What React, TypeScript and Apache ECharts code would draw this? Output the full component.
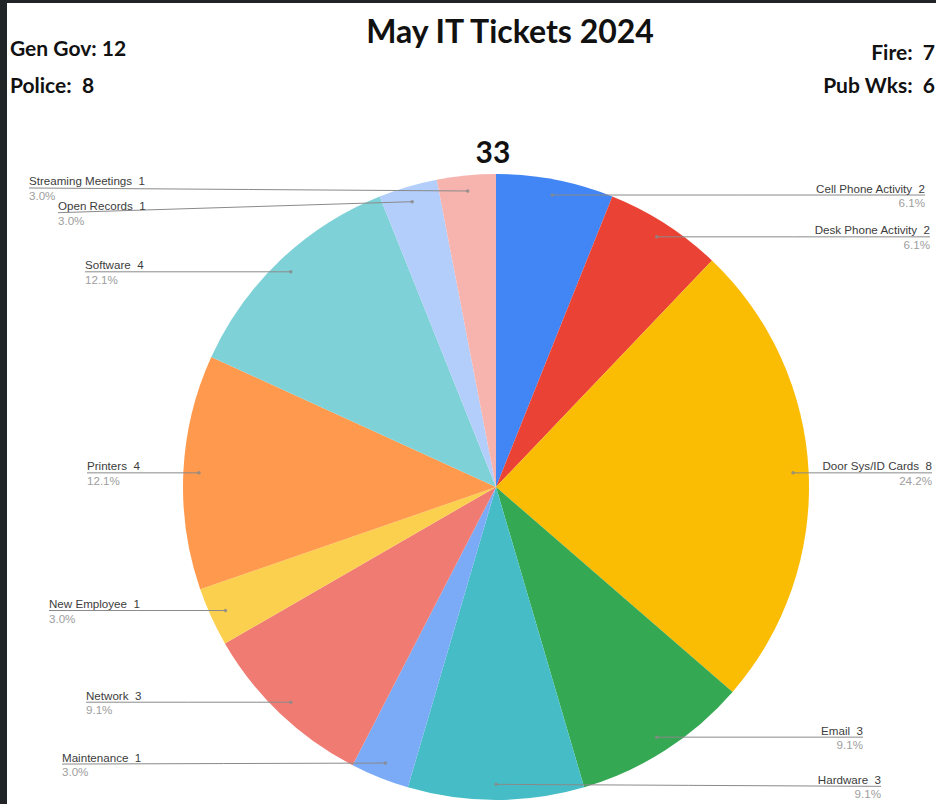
import React, { useEffect, useRef } from "react";
import * as echarts from "echarts";

const chartTitle = "May IT Tickets 2024";
const categories = [
  "Cell Phone Activity",
  "Desk Phone Activity",
  "Door Sys/ID Cards",
  "Email",
  "Hardware",
  "Maintenance",
  "Network",
  "New Employee",
  "Printers",
  "Software",
  "Open Records",
  "Streaming Meetings",
];
const ticketCounts = [2, 2, 8, 3, 3, 1, 3, 1, 4, 4, 1, 1];
const departmentNames = ["Gen Gov", "Police", "Fire", "Pub Wks"];
const departmentCounts = [12, 8, 7, 6];

const sliceColors = [
  "#4285F4",
  "#EA4335",
  "#FBBC04",
  "#34A853",
  "#46BDC6",
  "#7BAAF7",
  "#F07B72",
  "#FCD04F",
  "#FF994D",
  "#7ED1D7",
  "#B3CEFB",
  "#F7B4AE",
];

// layout constants (pixels)
const CX = 496;
const CY = 487;
const R = 313;
const DOT = 0.95;
const labelEndX = [925, 930, 932, 863, 881, 62, 86, 49, 87, 85, 58, 29];
const labelShiftY = [0, 0, 0, 0, 2, 1, 0, 0, 0, 0, 11, -3];

export default function App() {
  const ref = useRef<HTMLDivElement>(null);

  useEffect(() => {
    if (!ref.current) return;
    const chart = echarts.init(ref.current, undefined, { renderer: "svg" });
    const total = ticketCounts.reduce((a, b) => a + b, 0);
    const midAngles: number[] = [];
    const midValues: number[] = [];
    let cum = 0;
    ticketCounts.forEach((v) => {
      midValues.push(cum + v / 2);
      midAngles.push(((cum + v / 2) / total) * Math.PI * 2);
      cum += v;
    });

    const headFont = (size: number) => `bold ${size}px Lato, "Open Sans", sans-serif`;
    const deptText = (i: number) =>
      `${departmentNames[i]}:${departmentCounts[i] < 10 ? "  " : " "}${departmentCounts[i]}`;

    const common = {
      type: "pie",
      center: [CX, CY],
      radius: [0, R],
      startAngle: 90,
      clockwise: true,
      avoidLabelOverlap: false,
      silent: true,
      emphasis: { disabled: true },
    };
    const hiddenAxis = {
      axisLine: { show: false },
      axisTick: { show: false },
      axisLabel: { show: false },
      splitLine: { show: false },
    };

    chart.setOption({
      animation: false,
      backgroundColor: "#ffffff",
      polar: { center: [CX, CY], radius: R },
      angleAxis: { type: "value", min: 0, max: total, startAngle: 90, clockwise: true, ...hiddenAxis },
      radiusAxis: { type: "value", min: 0, max: 1, ...hiddenAxis },
      series: [
        {
          ...common,
          z: 2,
          itemStyle: { borderWidth: 0 },
          data: categories.map((name, i) => ({
            name,
            value: ticketCounts[i],
            itemStyle: { color: sliceColors[i] },
          })),
          label: { show: false },
          labelLine: { show: false },
        },
        {
          ...common,
          z: 5,
          itemStyle: { borderWidth: 0, color: "rgba(0,0,0,0)" },
          data: categories.map((name, i) => ({ name, value: ticketCounts[i] })),
          label: {
            show: true,
            position: "outside",
            formatter: (p: any) =>
              `{n|${p.name}  ${p.value}}\n{p|${((p.value / total) * 100).toFixed(1)}%}`,
            rich: {
              n: {
                fontSize: 11.6,
                fontFamily: "Liberation Sans, Arial, sans-serif",
                color: "#3c3c3c",
                lineHeight: 15,
              },
              p: {
                fontSize: 11.6,
                fontFamily: "Liberation Sans, Arial, sans-serif",
                color: "#9e9e9e",
                lineHeight: 14,
              },
            },
          },
          labelLine: {
            show: true,
            showAbove: true,
            length: 5,
            length2: 5,
            lineStyle: { color: "#8a8a8a", width: 1, opacity: 1 },
          },
          labelLayout: (p: any) => {
            const i = p.dataIndex;
            const a = midAngles[i];
            const dx = CX + Math.sin(a) * R * DOT;
            const dy = CY - Math.cos(a) * R * DOT;
            const ex = labelEndX[i];
            const ly = dy + labelShiftY[i];
            const right = ex > dx;
            return {
              x: ex,
              y: ly,
              align: right ? "right" : "left",
              verticalAlign: "middle",
              labelLinePoints: [
                [dx, dy],
                [(dx + ex) / 2, (dy + ly) / 2],
                [ex, ly],
              ],
            };
          },
        },
        {
          type: "scatter",
          coordinateSystem: "polar",
          z: 6,
          silent: true,
          symbol: "circle",
          symbolSize: 3.5,
          itemStyle: { color: "#8a8a8a" },
          data: midValues.map((m) => [DOT, m]),
        },
      ],
      graphic: [
        {
          type: "text",
          x: 510,
          y: 30,
          style: { text: chartTitle, font: headFont(32), fill: "#111", align: "center", verticalAlign: "middle" },
        },
        {
          type: "text",
          x: 493,
          y: 151,
          style: { text: String(total), font: headFont(30), fill: "#111", align: "center", verticalAlign: "middle" },
        },
        {
          type: "text",
          x: 10,
          y: 47,
          style: { text: deptText(0), font: headFont(21), fill: "#111", align: "left", verticalAlign: "middle" },
        },
        {
          type: "text",
          x: 10,
          y: 84,
          style: { text: deptText(1), font: headFont(21), fill: "#111", align: "left", verticalAlign: "middle" },
        },
        {
          type: "text",
          x: 935,
          y: 51,
          style: { text: deptText(2), font: headFont(21), fill: "#111", align: "right", verticalAlign: "middle" },
        },
        {
          type: "text",
          x: 935,
          y: 84,
          style: { text: deptText(3), font: headFont(21), fill: "#111", align: "right", verticalAlign: "middle" },
        },
        { type: "rect", shape: { x: 0, y: 0, width: 7, height: 804 }, style: { fill: "#202427" }, z: 100 },
        { type: "rect", shape: { x: 0, y: 0, width: 936, height: 3 }, style: { fill: "#202427" }, z: 100 },
      ],
    });
    return () => chart.dispose();
  }, []);

  return (
    <div
      ref={ref}
      style={{ position: "fixed", left: 0, top: 0, width: 936, height: 804 }}
    />
  );
}
